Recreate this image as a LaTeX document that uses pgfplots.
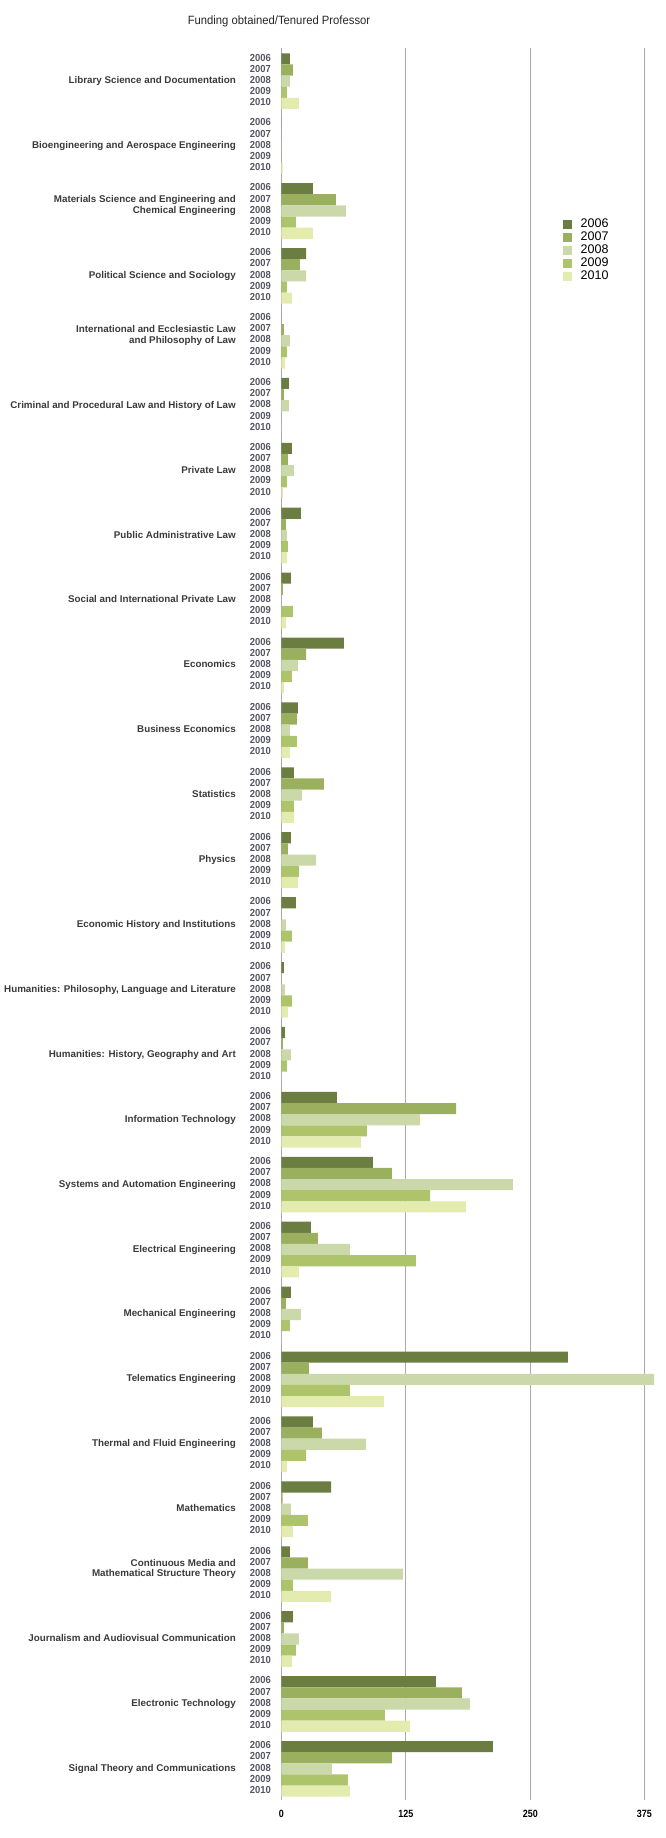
\documentclass[border=0pt]{standalone}
\usepackage{fontspec}
\setmainfont{Liberation Sans}
\usepackage{graphicx}
\usepackage{pgfplots}
\usepackage{pgfplotstable}
\pgfplotsset{compat=1.18}

\definecolor{c2006}{HTML}{6B7D41}
\definecolor{c2007}{HTML}{9BB05E}
\definecolor{c2008}{HTML}{CBD8AA}
\definecolor{c2009}{HTML}{ADC46A}
\definecolor{c2010}{HTML}{E3EBAE}
\definecolor{catgray}{HTML}{3A3A3A}
\definecolor{yeargray}{HTML}{555560}
\definecolor{gridgray}{HTML}{AAAAAA}

\newcommand\yrs{{\fontsize{10.2}{11.13}\selectfont\bfseries\color{yeargray}\scalebox{0.925}[1]{\begin{tabular}[c]{@{}r@{}}2006\\2007\\2008\\2009\\2010\end{tabular}}}}
\newcommand\catlab[1]{{\fontsize{9.8}{10.5}\selectfont\bfseries\color{catgray}\begin{tabular}[b]{@{}r@{}}#1\end{tabular}}\hspace{14pt}\yrs}
\newcommand\xl[1]{\scalebox{0.85}[1]{#1}}

% g = vertical position (26 = top group)
\pgfplotstableread{
g  a     b     c     d     e
26 8.7   11.7  8.7   5.7   17.7
25 0     0     0     0     1.3
24 31.8  54.9  64.9  14.7  31.8
23 24.8  18.7  24.8  5.7   10.7
22 0     2.7   8.7   5.7   3.7
21 7.7   2.7   7.7   0     0
20 10.7  6.7   12.7  5.7   1.7
19 19.7  4.7   5.7   6.7   5.7
18 9.7   1.7   0     11.7  4.7
17 62.9  24.8  16.7  10.7  2.7
16 16.7  15.7  8.7   15.7  8.7
15 12.7  42.8  20.7  12.7  12.7
14 9.7   6.7   34.8  17.7  16.7
13 14.7  0     4.7   10.7  3.7
12 2.7   0     3.7   10.7  6.7
11 3.7   1.7   9.7   5.7   0
10 55.9  175.4 139.2 86.0  80.0
9  92.0  111.1 232.6 149.3 185.4
8  29.8  36.8  68.9  135.2 17.7
7  9.7   4.7   19.7  8.7   0
6  287.8 27.8  374.2 68.9  103.1
5  31.8  40.8  85.0  24.8  5.7
4  49.9  1.3   9.7   26.8  11.7
3  8.7   26.8  122.2 11.7  49.9
2  11.7  2.7   17.7  14.7  10.7
1  155.3 181.4 189.4 104.1 129.2
0  212.5 111.1 50.9  66.9  68.9
}\data

\begin{document}
\begin{tikzpicture}
\useasboundingbox (0pt,0pt) rectangle (665pt,-1838pt);
\node[font=\fontsize{12}{14}\selectfont, text=black!85] at (279pt,-21pt) {\scalebox{0.94}[1]{Funding obtained/Tenured Professor}};
\begin{axis}[
  at={(281.3pt,-1800pt)}, anchor=south west,
  scale only axis, width=373.5pt, height=1752pt,
  xmin=0, xmax=375, ymin=-0.48, ymax=26.51,
  enlargelimits=false,
  xbar, bar width=0.1715, bar shift=0pt,
  axis line style={draw=none},
  tick style={draw=none}, major tick length=0pt,
  xtick={0,125,250,364.5}, xticklabels={\xl{0},\xl{125},\xl{250},\xl{375}},
  xmajorgrids, major grid style={gridgray, line width=1.1pt},
  xticklabel style={font=\fontsize{10.5}{11}\selectfont\bfseries, inner sep=0pt, yshift=-10pt},
  ytick={0,...,26},
  yticklabels={
    {\catlab{Signal Theory and Communications}},
    {\catlab{Electronic Technology}},
    {\catlab{Journalism and Audiovisual Communication}},
    {\catlab{Continuous Media and\\Mathematical Structure Theory}},
    {\catlab{Mathematics}},
    {\catlab{Thermal and Fluid Engineering}},
    {\catlab{Telematics Engineering}},
    {\catlab{Mechanical Engineering}},
    {\catlab{Electrical Engineering}},
    {\catlab{Systems and Automation Engineering}},
    {\catlab{Information Technology}},
    {\catlab{Humanities: History, Geography and Art}},
    {\catlab{Humanities: Philosophy, Language and Literature}},
    {\catlab{Economic History and Institutions}},
    {\catlab{Physics}},
    {\catlab{Statistics}},
    {\catlab{Business Economics}},
    {\catlab{Economics}},
    {\catlab{Social and International Private Law}},
    {\catlab{Public Administrative Law}},
    {\catlab{Private Law}},
    {\catlab{Criminal and Procedural Law and History of Law}},
    {\catlab{International and Ecclesiastic Law\\and Philosophy of Law}},
    {\catlab{Political Science and Sociology}},
    {\catlab{Materials Science and Engineering and\\Chemical Engineering}},
    {\catlab{Bioengineering and Aerospace Engineering}},
    {\catlab{Library Science and Documentation}}
  },
  yticklabel style={anchor=east, inner sep=0pt, xshift=-10.3pt},
  legend image code/.code={\path[#1, draw=none] (0pt,-4.5pt) rectangle (9pt,4.5pt); \path (18pt,0pt);},
  legend style={at={(0.7534,0.9031)}, anchor=north west, draw=none, fill=none,
    inner sep=0pt, outer sep=0pt, row sep=0pt, column sep=0pt,
    font=\fontsize{12.5}{14}\selectfont,
    nodes={inner sep=0pt, text height=9.5pt, text depth=3.6pt, anchor=west}},
]
\addplot[fill=c2006, draw=none] table[x=a, y expr=\thisrow{g}+0.343] \data;
\addplot[fill=c2007, draw=none] table[x=b, y expr=\thisrow{g}+0.1715] \data;
\addplot[fill=c2008, draw=none] table[x=c, y expr=\thisrow{g}] \data;
\addplot[fill=c2009, draw=none] table[x=d, y expr=\thisrow{g}-0.1715] \data;
\addplot[fill=c2010, draw=none] table[x=e, y expr=\thisrow{g}-0.343] \data;
\legend{2006,2007,2008,2009,2010}
\end{axis}
\end{tikzpicture}
\end{document}
